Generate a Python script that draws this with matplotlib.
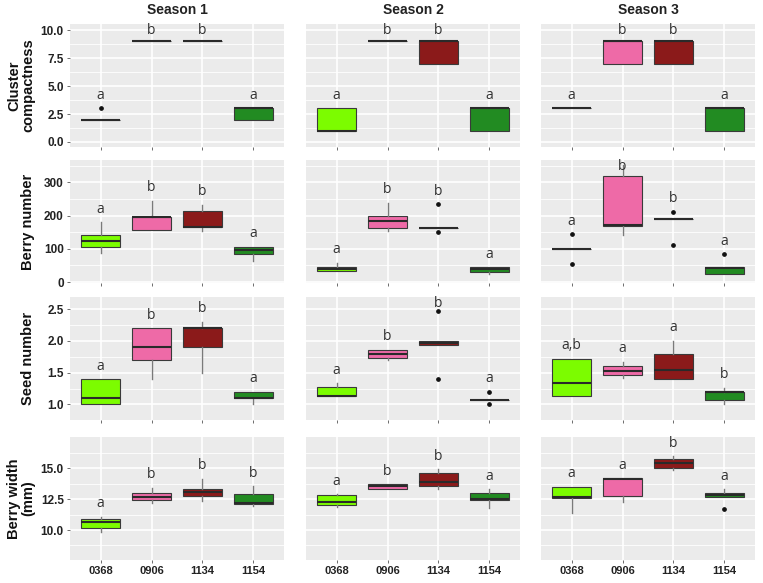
import matplotlib
matplotlib.use("Agg")
import matplotlib.pyplot as plt
from matplotlib.ticker import FixedLocator, FormatStrFormatter

# Categorias y textos
CATS = ["0368", "0906", "1134", "1154"]
SEASONS = ["Season 1", "Season 2", "Season 3"]
ROW_LABELS = ["Cluster\ncompactness", "Berry number", "Seed number", "Berry width\n(mm)"]
FILLS = ["#7CFC00", "#EE6AA7", "#8B1A1A", "#228B22"]

# (whislo, q1, med, q3, whishi) por temporada y clon
compact_box = [
    [(2, 2, 2, 2, 2), (9, 9, 9, 9, 9), (9, 9, 9, 9, 9), (2, 2, 3, 3, 3)],
    [(1, 1, 1, 3, 3), (9, 9, 9, 9, 9), (7, 7, 9, 9, 9), (1, 1, 3, 3, 3)],
    [(3, 3, 3, 3, 3), (7, 7, 9, 9, 9), (7, 7, 9, 9, 9), (1, 1, 3, 3, 3)],
]
compact_out = [[[3], [], [], []], [[], [], [], []], [[], [], [], []]]
compact_letters = [["a", "b", "b", "a"], ["a", "b", "b", "a"], ["a", "b", "b", "a"]]

berry_box = [
    [(86, 106, 124, 141, 180), (155, 157, 195, 197, 245), (154, 165, 165, 215, 232), (64, 85, 96, 106, 106)],
    [(32, 32, 39, 45, 58), (154, 162, 185, 199, 239), (161, 161, 161, 161, 161), (24, 30, 39, 44, 44)],
    [(98, 98, 98, 98, 98), (142, 169, 172, 320, 352), (191, 191, 191, 191, 191), (24, 24, 41, 44, 44)],
]
berry_out = [[[], [], [], []], [[], [], [234, 151], []], [[143, 54], [], [212, 110], [84]]]
berry_letters = [["a", "b", "b", "a"], ["a", "b", "b", "a"], ["a", "b", "b", "a"]]

seed_box = [
    [(1.0, 1.0, 1.1, 1.4, 1.4), (1.4, 1.7, 1.9, 2.2, 2.2), (1.5, 1.9, 2.2, 2.2, 2.3), (1.0, 1.1, 1.1, 1.2, 1.2)],
    [(1.13, 1.13, 1.14, 1.27, 1.33), (1.7, 1.73, 1.8, 1.86, 1.86), (1.93, 1.93, 1.97, 2.0, 2.0), (1.07, 1.07, 1.07, 1.07, 1.07)],
    [(1.13, 1.13, 1.33, 1.72, 1.72), (1.42, 1.47, 1.53, 1.6, 1.67), (1.4, 1.4, 1.54, 1.8, 2.0), (1.01, 1.07, 1.2, 1.2, 1.26)],
]
seed_out = [[[], [], [], []], [[], [], [2.47, 1.4], [1.2, 1.0]], [[], [], [], []]]
seed_letters = [["a", "b", "b", "a"], ["a", "b", "b", "a"], ["a,b", "a", "a", "b"]]

width_box = [
    [(9.84, 10.19, 10.68, 10.92, 11.08), (12.16, 12.43, 12.65, 12.97, 13.43), (12.38, 12.76, 13.1, 13.32, 14.16), (11.95, 12.08, 12.19, 12.92, 13.57)],
    [(11.84, 12.0, 12.3, 12.81, 12.92), (13.32, 13.32, 13.6, 13.7, 13.7), (13.32, 13.54, 13.86, 14.65, 14.95), (11.78, 12.43, 12.51, 12.97, 13.32)],
    [(11.4, 12.57, 12.65, 13.51, 13.51), (12.24, 12.76, 14.16, 14.19, 14.19), (14.86, 15.0, 15.41, 15.76, 16.0), (12.7, 12.7, 12.86, 13.03, 13.32)],
]
width_out = [[[], [], [], []], [[], [], [], []], [[], [], [], [11.7]]]
width_letters = [["a", "b", "b", "b"], ["a", "b", "b", "a"], ["a", "a", "b", "a"]]

ROWS = [
    (compact_box, compact_out, compact_letters, (-0.45, 10.55), [0, 2.5, 5, 7.5, 10], "%.1f"),
    (berry_box, berry_out, berry_letters, (-3, 367), [0, 100, 200, 300], "%d"),
    (seed_box, seed_out, seed_letters, (0.755, 2.69), [1.0, 1.5, 2.0, 2.5], "%.1f"),
    (width_box, width_out, width_letters, (7.57, 17.54), [10.0, 12.5, 15.0], "%.1f"),
]

W, H = 763, 583
COL_X = [70, 306, 541]
PANEL_W = 214
ROW_Y = [24, 160, 297, 437]
PANEL_H = 123

TICK_FONT = "Liberation Sans"
fig = plt.figure(figsize=(W / 100, H / 100), dpi=100)
fig.patch.set_facecolor("white")

for r, (boxes, outs, letters, ylim, yticks, fmt) in enumerate(ROWS):
    span = ylim[1] - ylim[0]
    for c in range(3):
        ax = fig.add_axes([COL_X[c] / W, 1 - (ROW_Y[r] + PANEL_H) / H,
                           PANEL_W / W, PANEL_H / H])
        ax.set_facecolor("#EBEBEB")
        for s in ax.spines.values():
            s.set_visible(False)
        stats = []
        for k, (lo, q1, med, q3, hi) in enumerate(boxes[c]):
            stats.append(dict(whislo=lo, q1=q1, med=med, q3=q3, whishi=hi,
                              fliers=outs[c][k]))
        res = ax.bxp(stats, positions=[1, 2, 3, 4], widths=0.75,
                     patch_artist=True, showcaps=False,
                     boxprops=dict(edgecolor="#3a3a3a", linewidth=0.8),
                     whiskerprops=dict(color="#7a7a7a", linewidth=1.0),
                     medianprops=dict(color="#2a2a2a", linewidth=1.5),
                     flierprops=dict(marker="o", markersize=2.4,
                                     markerfacecolor="#111111",
                                     markeredgecolor="#111111"),
                     zorder=3)
        for patch, col in zip(res["boxes"], FILLS):
            patch.set_facecolor(col)

        # letras de significancia sobre cada caja
        for k in range(4):
            top = max([boxes[c][k][4]] + outs[c][k])
            y = min(top + 0.105 * span, ylim[1] - 0.05 * span)
            ax.text(k + 1, y, letters[c][k], ha="center", va="center",
                    fontsize=10, family="Open Sans", color="#333333", zorder=4)

        ax.set_xlim(0.4, 4.6)
        ax.set_ylim(*ylim)
        ax.yaxis.set_major_locator(FixedLocator(yticks))
        mids = [(a + b) / 2 for a, b in zip(yticks[:-1], yticks[1:])]
        mids = [yticks[0] - (yticks[1] - yticks[0]) / 2] + mids + \
               [yticks[-1] + (yticks[1] - yticks[0]) / 2]
        ax.yaxis.set_minor_locator(FixedLocator(mids))
        ax.yaxis.set_major_formatter(FormatStrFormatter(fmt))
        ax.grid(True, which="major", color="white", linewidth=1.2, zorder=0)
        ax.grid(True, which="minor", axis="y", color="white", linewidth=0.6, zorder=0)
        ax.set_axisbelow(True)
        ax.set_xticks([1, 2, 3, 4])
        ax.tick_params(axis="both", which="major", length=2.5, width=0.6,
                       color="#555555", pad=2)
        ax.tick_params(axis="y", which="minor", length=0)
        if r == 3:
            ax.set_xticklabels(CATS, fontsize=8, fontweight="bold",
                               family=TICK_FONT, color="#222222")
        else:
            ax.set_xticklabels([])
        if c == 0:
            for lab in ax.get_yticklabels():
                lab.set_fontsize(8.5)
                lab.set_fontweight("bold")
                lab.set_family(TICK_FONT)
                lab.set_color("#222222")
        else:
            ax.tick_params(axis="y", which="major", length=0, labelleft=False)

        if r == 0:
            fig.text((COL_X[c] + PANEL_W / 2) / W, 1 - 10 / H, SEASONS[c],
                     ha="center", va="center", fontsize=10, fontweight="bold",
                     family=TICK_FONT, color="#222222")

    # titulo de fila alineado a la derecha, como el eje y de ggplot
    fig.text(35 / W, 1 - (ROW_Y[r] + PANEL_H / 2) / H, ROW_LABELS[r],
             ha="right", va="center", rotation=90, fontsize=10.5,
             fontweight="bold", family=TICK_FONT, color="#111111",
             linespacing=1.0, multialignment="center")

fig.savefig("out.png", dpi=100, facecolor="white")
